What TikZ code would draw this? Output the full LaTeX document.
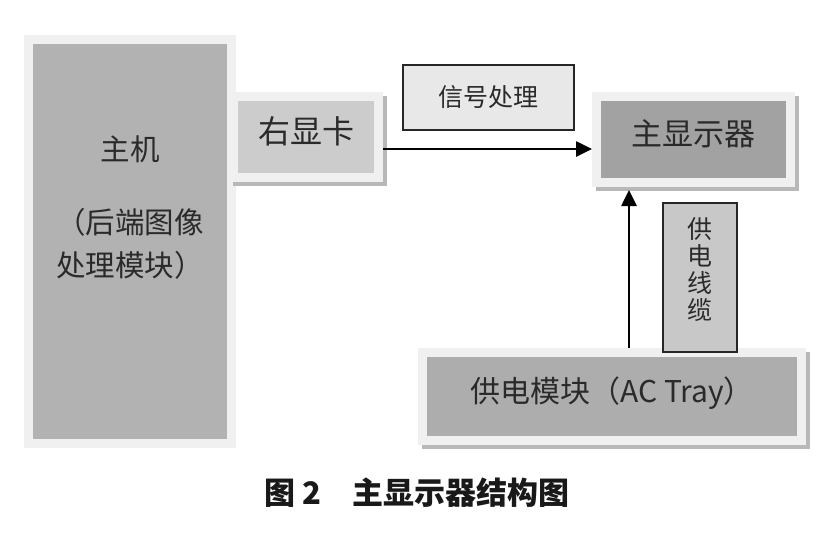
\documentclass[tikz,border=0pt]{standalone}
\usepackage{fontspec}
\setmainfont{Noto Sans CJK SC}
\usepackage{tikz}
\usetikzlibrary{positioning,arrows.meta}

\definecolor{framegray}{HTML}{F0F0F0}
\definecolor{shadegray}{HTML}{B8B8B8}
\definecolor{hostgray}{HTML}{B2B2B2}
\definecolor{cardgray}{HTML}{CCCCCC}
\definecolor{dispgray}{HTML}{A2A2A2}
\definecolor{pwrgray}{HTML}{ADADAD}
\definecolor{siggray}{HTML}{E8E8E8}
\definecolor{cablegray}{HTML}{C8C8C8}
\definecolor{txtgray}{HTML}{2A2A2A}

\begin{document}
\begin{tikzpicture}[x=1pt, y=-1pt]
    \tikzstyle{frame}=[draw=framegray, line width=9pt, inner sep=0pt,
                       text=txtgray, font=\fontsize{30}{43}\selectfont]
    \tikzstyle{shadowframe}=[frame, text depth=14pt,
                       preaction={draw=shadegray, fill=shadegray, line width=9pt,
                                  transform canvas={shift={(3.5pt,-3.5pt)}}}]
    \tikzstyle{thinbox}=[draw=black!85, line width=1.5pt, inner sep=0pt]
    \tikzstyle{inlabel}=[inner sep=0pt, align=center, text=txtgray]
    \tikzstyle{arrow}=[draw=black, line width=2.6pt,
                       -{Triangle[length=16pt,width=15pt]}]

    \useasboundingbox (0,0) rectangle (839,539);

    % host and graphics card
    \node[frame, fill=hostgray, minimum width=203pt, minimum height=404pt]
          (host) at (130,241.5) {};
    \node[inlabel, below=101pt of host.north, font=\fontsize{29.5}{43}\selectfont]
          (hosttxt) {主机\\[30pt]（后端图像\\处理模块）};
    \node[shadowframe, fill=cardgray, minimum width=145pt, minimum height=81pt,
          font=\fontsize{32}{38}\selectfont] (card) at (306,137) {右显卡};

    % display side
    \node[thinbox, fill=siggray, minimum width=171pt, minimum height=65pt,
          font=\fontsize{25}{27}\selectfont, text=txtgray]
          (sig) at (488.5,97.5) {信号处理};
    \node[shadowframe, fill=dispgray, minimum width=194pt, minimum height=86pt,
          font=\fontsize{31}{37}\selectfont] (disp) at (693.5,139.5) {主显示器};

    % power supply
    \node[shadowframe, fill=pwrgray, minimum width=379pt, minimum height=88pt]
          (pwr) at (612,396.5) {供电模块（AC Tray）};
    \node[thinbox, fill=cablegray, minimum width=74pt, minimum height=149pt]
          (cable) at (700,277.5) {};
    \node[inlabel, below=15pt of cable.north, font=\fontsize{25}{27}\selectfont]
          (cabletxt) {供\\电\\线\\缆};

    % signal and power paths
    \coordinate (cardout) at ([yshift=-12pt]card.east);
    \draw[arrow] (cardout) -- (cardout -| disp.west);
    \draw[arrow] ([xshift=-64.5pt]disp.south |- pwr.north)
                 -- ([xshift=-64.5pt,yshift=-3pt]disp.south);

    \node[font=\fontsize{31}{36}\selectfont\bfseries, text=black!90]
          (caption) at (417,493) {图 2　主显示器结构图};
  \end{tikzpicture}
\end{document}
